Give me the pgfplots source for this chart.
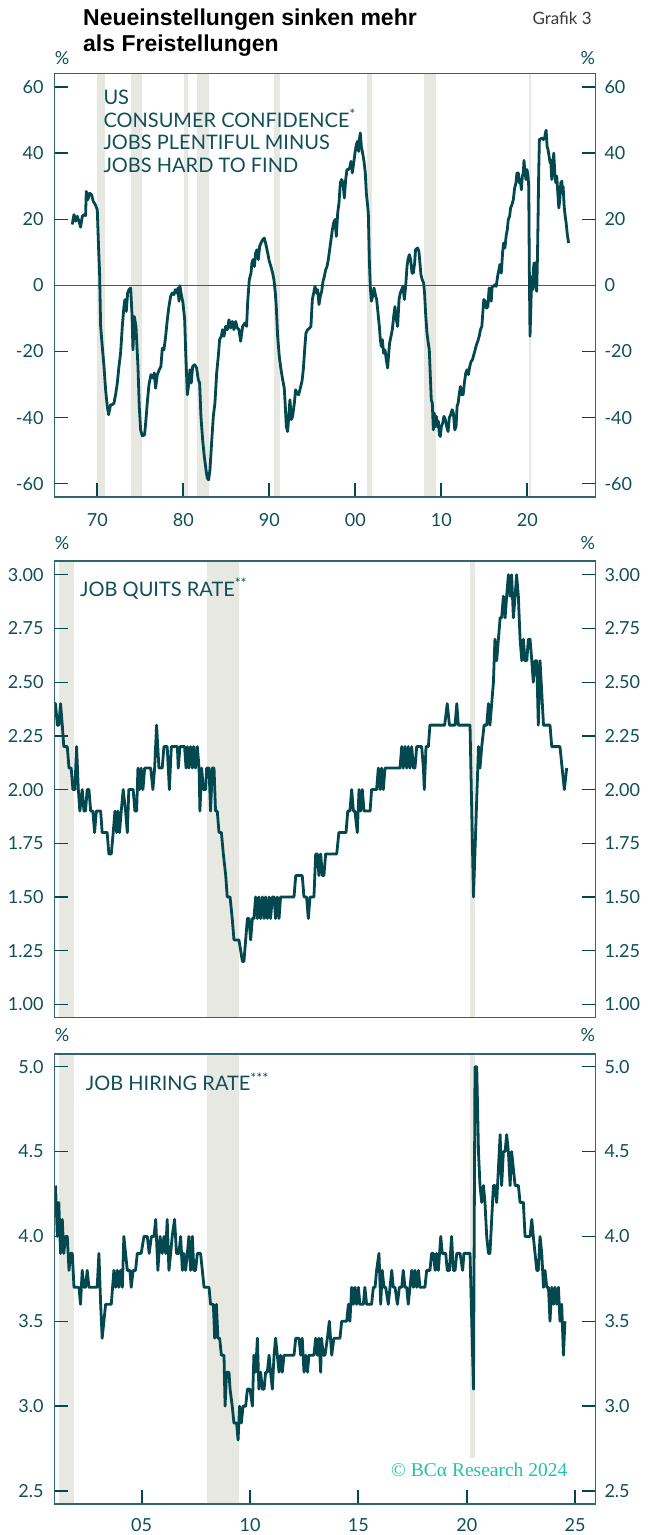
\documentclass[border=0pt]{standalone}
\usepackage{pgfplots}
\pgfplotsset{compat=1.18}
\usepackage{fontspec}
\setmainfont{Lato}
\newfontfamily\titlefont{Liberation Sans}
\newfontfamily\wmfont{Liberation Serif}
\definecolor{ln}{HTML}{03474F}
\definecolor{tkc}{HTML}{0F4F57}
\definecolor{axc}{HTML}{2F666C}
\definecolor{shd}{HTML}{E8E8E3}
\definecolor{wm}{HTML}{1FC6A0}
\definecolor{gr}{HTML}{3A3A3A}
\pgfplotsset{
  base/.style={
    scale only axis, width=540.6pt, axis on top,
    axis line style={draw=axc, line width=1.3pt},
    major tick length=0pt, tick align=inside,
    ytick pos=both, xtick pos=bottom, yticklabel pos=left,
    /pgf/number format/assume math mode=true,
    ticklabel style={font=\fontsize{18}{18}\selectfont, text=tkc},
    yticklabel style={anchor=east, inner sep=0pt, xshift=-11pt},
    xticklabel style={anchor=north, inner sep=0pt, yshift=-15pt},
  },
  rightax/.style={
    scale only axis, width=540.6pt,
    axis y line*=right, hide x axis,
    axis line style={draw=none},
    ytick style={draw=none},
    /pgf/number format/assume math mode=true,
    ticklabel style={font=\fontsize{18}{18}\selectfont, text=tkc},
    yticklabel style={anchor=west, inner sep=0pt, xshift=9pt},
  },
  recess/.style={fill=shd, draw=none, forget plot},
  dat/.style={draw=ln, line width=2.8pt, line join=round, mark=none},
}
\begin{document}
\begin{tikzpicture}
\useasboundingbox (0pt,0pt) rectangle (656pt,-1535pt);
% titles
\node[anchor=base west, inner sep=0pt, font=\titlefont\bfseries\fontsize{23}{23}\selectfont] at (83pt,-25pt) {Neueinstellungen sinken mehr};
\node[anchor=base west, inner sep=0pt, font=\titlefont\bfseries\fontsize{23}{23}\selectfont] at (83pt,-51pt) {als Freistellungen};
\node[anchor=base east, inner sep=0pt, font=\fontsize{17}{17}\selectfont, text=gr] at (592pt,-24pt) {Grafik 3};

% ---------- Panel 1 ----------
\begin{axis}[base, at={(54.7pt,-73.7pt)}, anchor=north west, height=423.3pt,
  xmin=1965.05, xmax=2027.9, ymin=-64, ymax=64,
  ytick={-60,-40,-20,0,20,40,60},
  xtick={1970,1980,1990,2000,2010,2020}, xticklabels={70,80,90,00,10,20},
  xticklabel style={yshift=-1.5pt}]
\addplot[recess] coordinates {(1969.95,-64) (1969.95,64) (1970.85,64) (1970.85,-64)};
\addplot[recess] coordinates {(1973.9,-64) (1973.9,64) (1975.25,64) (1975.25,-64)};
\addplot[recess] coordinates {(1980.05,-64) (1980.05,64) (1980.6,64) (1980.6,-64)};
\addplot[recess] coordinates {(1981.55,-64) (1981.55,64) (1982.95,64) (1982.95,-64)};
\addplot[recess] coordinates {(1990.58,-64) (1990.58,64) (1991.24,64) (1991.24,-64)};
\addplot[recess] coordinates {(2001.3,-64) (2001.3,64) (2001.94,64) (2001.94,-64)};
\addplot[recess] coordinates {(2007.94,-64) (2007.94,64) (2009.42,64) (2009.42,-64)};
\addplot[recess] coordinates {(2020.18,-64) (2020.18,64) (2020.38,64) (2020.38,-64)};
\addplot[draw=axc, line width=1.2pt, forget plot] coordinates {(1965.05,0) (2027.9,0)};
% tick marks
\addplot[draw=ln, line width=1.3pt, forget plot] coordinates {(1965.05,60) (1966.62,60)};
\addplot[draw=ln, line width=1.3pt, forget plot] coordinates {(1965.05,40) (1966.62,40)};
\addplot[draw=ln, line width=1.3pt, forget plot] coordinates {(1965.05,20) (1966.62,20)};
\addplot[draw=ln, line width=1.3pt, forget plot] coordinates {(1965.05,-20) (1966.62,-20)};
\addplot[draw=ln, line width=1.3pt, forget plot] coordinates {(1965.05,-40) (1966.62,-40)};
\addplot[draw=ln, line width=1.3pt, forget plot] coordinates {(1965.05,-60) (1966.62,-60)};
\addplot[draw=ln, line width=1.3pt, forget plot] coordinates {(2026.33,60) (2027.9,60)};
\addplot[draw=ln, line width=1.3pt, forget plot] coordinates {(2026.33,40) (2027.9,40)};
\addplot[draw=ln, line width=1.3pt, forget plot] coordinates {(2026.33,20) (2027.9,20)};
\addplot[draw=ln, line width=1.3pt, forget plot] coordinates {(2026.33,-20) (2027.9,-20)};
\addplot[draw=ln, line width=1.3pt, forget plot] coordinates {(2026.33,-40) (2027.9,-40)};
\addplot[draw=ln, line width=1.3pt, forget plot] coordinates {(2026.33,-60) (2027.9,-60)};
\addplot[draw=ln, line width=2.2pt, forget plot] coordinates {(1970,-64) (1970,-59.9)};
\addplot[draw=ln, line width=2.2pt, forget plot] coordinates {(1980,-64) (1980,-59.9)};
\addplot[draw=ln, line width=2.2pt, forget plot] coordinates {(1990,-64) (1990,-59.9)};
\addplot[draw=ln, line width=2.2pt, forget plot] coordinates {(2000,-64) (2000,-59.9)};
\addplot[draw=ln, line width=2.2pt, forget plot] coordinates {(2010,-64) (2010,-59.9)};
\addplot[draw=ln, line width=2.2pt, forget plot] coordinates {(2020,-64) (2020,-59.9)};
\addplot[dat] coordinates {
(1967.09,18.4) (1967.29,21.4) (1967.48,19.4) (1967.67,20.9) (1967.87,19.4) (1968.06,17.6) (1968.26,20.9) (1968.45,21.4) (1968.64,21.1) (1968.72,28.4) (1968.91,25.9) (1969.11,27.9) (1969.34,27.4) (1969.53,25.4) (1969.77,24.4) (1970.00,22.9) (1970.16,10.8) (1970.27,3.7) (1970.39,-12.4) (1970.58,-18.5) (1970.78,-24.5) (1970.97,-31.6) (1971.16,-36.6) (1971.32,-39.1) (1971.55,-36.1) (1971.74,-36.1) (1971.94,-35.6) (1972.13,-33.1) (1972.33,-29.5) (1972.52,-24.5) (1972.71,-20.5) (1972.91,-12.4) (1973.10,-6.4) (1973.22,-4.3) (1973.37,-7.9) (1973.53,-2.3) (1973.68,-1.3) (1973.88,-0.8) (1974.03,-8.4) (1974.15,-19.5) (1974.30,-9.4) (1974.50,-12.4) (1974.73,-24.5) (1974.88,-36.6) (1975.04,-43.7) (1975.23,-45.5) (1975.50,-45.2) (1975.66,-40.6) (1975.81,-35.6) (1976.01,-30.0) (1976.24,-27.0) (1976.47,-28.0) (1976.63,-26.5) (1976.78,-31.1) (1976.98,-27.0) (1977.21,-25.5) (1977.40,-24.5) (1977.56,-19.0) (1977.75,-19.5) (1977.95,-15.4) (1978.14,-10.4) (1978.33,-6.4) (1978.53,-3.3) (1978.72,-2.3) (1978.91,-2.8) (1979.07,-1.3) (1979.22,-2.3) (1979.38,-0.8) (1979.50,-4.8) (1979.61,-0.1) (1979.77,-2.8) (1979.96,-5.2) (1980.16,-10.4) (1980.27,-19.5) (1980.47,-33.1) (1980.62,-30.0) (1980.78,-25.5) (1980.93,-29.5) (1981.09,-24.5) (1981.32,-24.0) (1981.55,-25.0) (1981.74,-28.5) (1981.90,-29.5) (1982.05,-39.6) (1982.25,-46.7) (1982.44,-51.7) (1982.64,-55.8) (1982.79,-58.3) (1982.95,-58.8) (1983.10,-55.8) (1983.29,-47.7) (1983.49,-39.6) (1983.68,-35.6) (1983.88,-26.5) (1984.07,-21.5) (1984.22,-16.4) (1984.42,-15.4) (1984.57,-13.4) (1984.73,-15.4) (1984.92,-12.4) (1985.12,-13.4) (1985.31,-10.4) (1985.50,-12.9) (1985.70,-10.9) (1985.89,-13.4) (1986.09,-10.9) (1986.28,-12.9) (1986.47,-13.4) (1986.67,-16.9) (1986.90,-12.4) (1987.17,-11.4) (1987.36,-12.4) (1987.48,-5.3) (1987.67,1.7) (1987.87,3.7) (1987.98,6.8) (1988.10,7.8) (1988.26,5.7) (1988.41,9.8) (1988.57,10.8) (1988.72,7.8) (1988.88,11.8) (1989.03,12.8) (1989.22,13.8) (1989.42,14.3) (1989.61,12.3) (1989.81,9.8) (1990.00,7.3) (1990.19,5.7) (1990.39,3.7) (1990.54,1.7) (1990.70,-2.3) (1990.81,-6.4) (1990.97,-15.4) (1991.16,-21.5) (1991.36,-25.5) (1991.55,-28.5) (1991.74,-31.1) (1991.86,-36.6) (1991.98,-42.7) (1992.13,-44.2) (1992.29,-38.6) (1992.40,-34.6) (1992.56,-40.6) (1992.71,-39.6) (1992.91,-35.6) (1993.06,-31.6) (1993.22,-32.6) (1993.41,-33.1) (1993.60,-31.1) (1993.80,-29.0) (1993.95,-25.5) (1994.11,-19.5) (1994.26,-14.4) (1994.46,-13.4) (1994.69,-12.9) (1994.84,-12.4) (1995.00,-4.3) (1995.16,-2.3) (1995.31,-0.3) (1995.47,-2.3) (1995.62,-1.3) (1995.78,-5.8) (1995.93,-3.3) (1996.09,-1.8) (1996.24,1.2) (1996.40,2.7) (1996.55,4.7) (1996.71,5.7) (1996.86,7.8) (1997.02,10.8) (1997.17,13.8) (1997.33,16.8) (1997.48,18.9) (1997.64,19.9) (1997.79,14.8) (1997.95,21.9) (1998.10,24.9) (1998.26,31.0) (1998.41,32.0) (1998.57,31.0) (1998.72,26.4) (1998.88,32.0) (1999.03,35.0) (1999.19,35.0) (1999.34,35.5) (1999.50,37.5) (1999.65,34.0) (1999.81,37.0) (1999.96,40.0) (2000.12,42.6) (2000.27,43.6) (2000.39,40.5) (2000.50,44.6) (2000.58,46.1) (2000.70,42.0) (2000.85,40.0) (2001.01,37.5) (2001.16,34.0) (2001.28,27.9) (2001.40,24.9) (2001.51,21.9) (2001.63,7.8) (2001.74,-0.3) (2001.86,-4.8) (2002.02,-3.3) (2002.17,-0.8) (2002.33,-2.8) (2002.48,-4.3) (2002.64,-8.4) (2002.79,-12.4) (2002.91,-16.4) (2003.02,-18.5) (2003.14,-16.4) (2003.29,-20.5) (2003.45,-19.5) (2003.60,-22.5) (2003.76,-25.0) (2003.88,-20.5) (2003.99,-17.4) (2004.15,-15.4) (2004.30,-13.4) (2004.46,-9.4) (2004.61,-6.4) (2004.77,-10.4) (2004.92,-12.4) (2005.08,-4.3) (2005.23,-2.3) (2005.39,-1.3) (2005.54,-0.3) (2005.70,-4.3) (2005.85,-0.3) (2006.01,5.7) (2006.12,7.8) (2006.28,9.3) (2006.43,7.8) (2006.59,3.7) (2006.74,3.7) (2006.90,6.8) (2007.00,10.8) (2007.24,11.3) (2007.39,10.3) (2007.51,6.8) (2007.63,3.2) (2007.78,1.7) (2007.94,0.7) (2008.05,-2.3) (2008.17,-8.4) (2008.33,-14.4) (2008.48,-17.4) (2008.60,-19.5) (2008.72,-27.5) (2008.83,-34.6) (2008.95,-35.6) (2009.07,-43.7) (2009.18,-38.6) (2009.30,-42.7) (2009.42,-39.6) (2009.53,-42.7) (2009.65,-41.1) (2009.77,-45.2) (2009.88,-45.7) (2010.00,-42.7) (2010.16,-41.6) (2010.31,-39.6) (2010.47,-40.6) (2010.62,-42.7) (2010.78,-44.2) (2010.93,-40.0) (2011.09,-39.1) (2011.25,-37.6) (2011.40,-38.6) (2011.56,-43.7) (2011.71,-42.7) (2011.83,-36.6) (2011.95,-35.6) (2012.10,-32.6) (2012.22,-30.6) (2012.37,-33.1) (2012.53,-33.1) (2012.68,-29.5) (2012.84,-26.5) (2013.00,-25.5) (2013.15,-27.0) (2013.31,-24.5) (2013.46,-23.0) (2013.62,-22.5) (2013.77,-21.0) (2013.93,-19.5) (2014.09,-17.9) (2014.24,-16.9) (2014.40,-15.4) (2014.55,-13.4) (2014.71,-12.4) (2014.82,-8.4) (2014.94,-4.3) (2015.10,-4.8) (2015.25,-6.9) (2015.41,-6.4) (2015.56,-0.8) (2015.68,-1.3) (2015.80,-4.8) (2015.91,-0.3) (2016.07,-0.3) (2016.23,0.2) (2016.38,-0.3) (2016.54,2.7) (2016.69,4.7) (2016.81,6.3) (2016.97,3.7) (2017.12,9.8) (2017.24,12.8) (2017.39,11.3) (2017.55,15.3) (2017.67,16.8) (2017.78,19.9) (2017.94,20.9) (2018.05,23.4) (2018.21,24.4) (2018.37,25.9) (2018.52,29.4) (2018.68,31.0) (2018.79,34.0) (2018.95,34.0) (2019.07,31.0) (2019.18,32.0) (2019.30,28.9) (2019.42,33.0) (2019.53,34.0) (2019.61,37.8) (2019.73,34.0) (2019.84,32.0) (2019.96,35.0) (2020.08,33.0) (2020.16,29.9) (2020.23,4.7) (2020.31,-15.4) (2020.39,-8.4) (2020.47,-0.3) (2020.54,2.7) (2020.62,-1.3) (2020.70,4.7) (2020.78,6.8) (2020.86,-0.3) (2020.93,6.8) (2021.01,-0.8) (2021.09,-1.8) (2021.17,7.8) (2021.25,20.9) (2021.32,34.0) (2021.40,44.1) (2021.56,44.3) (2021.71,44.6) (2021.87,44.1) (2022.02,44.6) (2022.10,46.1) (2022.18,46.9) (2022.30,42.0) (2022.41,41.0) (2022.53,39.0) (2022.65,37.0) (2022.72,38.0) (2022.84,32.0) (2022.96,35.0) (2023.07,40.0) (2023.19,34.0) (2023.31,31.0) (2023.42,33.0) (2023.54,27.9) (2023.66,23.4) (2023.77,25.9) (2023.89,31.0) (2024.01,31.5) (2024.09,27.9) (2024.16,29.9) (2024.28,23.9) (2024.40,20.9) (2024.51,18.9) (2024.63,15.8) (2024.79,12.8)
};
\end{axis}
\begin{axis}[rightax, at={(54.7pt,-73.7pt)}, anchor=north west, height=423.3pt,
  xmin=1965.05, xmax=2027.9, ymin=-64, ymax=64, ytick={-60,-40,-20,0,20,40,60}]
\addplot[draw=none] coordinates {(1970,0)};
\end{axis}

% ---------- Panel 2 ----------
\begin{axis}[base, at={(54.7pt,-561pt)}, anchor=north west, height=456.7pt,
  xmin=2000.99, xmax=2025.93, ymin=0.938, ymax=3.064,
  ytick={1,1.25,1.5,1.75,2,2.25,2.5,2.75,3}, xtick=\empty,
  yticklabel style={/pgf/number format/.cd, fixed, fixed zerofill, precision=2}]
\addplot[recess] coordinates {(2001.2,0.938) (2001.2,3.064) (2001.9,3.064) (2001.9,0.938)};
\addplot[recess] coordinates {(2008.0,0.938) (2008.0,3.064) (2009.5,3.064) (2009.5,0.938)};
\addplot[recess] coordinates {(2020.17,0.938) (2020.17,3.064) (2020.38,3.064) (2020.38,0.938)};
% tick marks
\addplot[draw=ln, line width=1.3pt, forget plot] coordinates {(2000.99,1) (2001.61,1)};
\addplot[draw=ln, line width=1.3pt, forget plot] coordinates {(2000.99,1.25) (2001.61,1.25)};
\addplot[draw=ln, line width=1.3pt, forget plot] coordinates {(2000.99,1.5) (2001.61,1.5)};
\addplot[draw=ln, line width=1.3pt, forget plot] coordinates {(2000.99,1.75) (2001.61,1.75)};
\addplot[draw=ln, line width=1.3pt, forget plot] coordinates {(2000.99,2) (2001.61,2)};
\addplot[draw=ln, line width=1.3pt, forget plot] coordinates {(2000.99,2.25) (2001.61,2.25)};
\addplot[draw=ln, line width=1.3pt, forget plot] coordinates {(2000.99,2.5) (2001.61,2.5)};
\addplot[draw=ln, line width=1.3pt, forget plot] coordinates {(2000.99,2.75) (2001.61,2.75)};
\addplot[draw=ln, line width=1.3pt, forget plot] coordinates {(2000.99,3) (2001.61,3)};
\addplot[draw=ln, line width=1.3pt, forget plot] coordinates {(2025.31,1) (2025.93,1)};
\addplot[draw=ln, line width=1.3pt, forget plot] coordinates {(2025.31,1.25) (2025.93,1.25)};
\addplot[draw=ln, line width=1.3pt, forget plot] coordinates {(2025.31,1.5) (2025.93,1.5)};
\addplot[draw=ln, line width=1.3pt, forget plot] coordinates {(2025.31,1.75) (2025.93,1.75)};
\addplot[draw=ln, line width=1.3pt, forget plot] coordinates {(2025.31,2) (2025.93,2)};
\addplot[draw=ln, line width=1.3pt, forget plot] coordinates {(2025.31,2.25) (2025.93,2.25)};
\addplot[draw=ln, line width=1.3pt, forget plot] coordinates {(2025.31,2.5) (2025.93,2.5)};
\addplot[draw=ln, line width=1.3pt, forget plot] coordinates {(2025.31,2.75) (2025.93,2.75)};
\addplot[draw=ln, line width=1.3pt, forget plot] coordinates {(2025.31,3) (2025.93,3)};
\addplot[dat] coordinates {
(2000.95,2.4) (2001.03,2.4) (2001.11,2.3) (2001.18,2.3) (2001.26,2.4) (2001.34,2.3) (2001.41,2.2) (2001.57,2.2) (2001.65,2.1) (2001.75,2.1) (2001.83,2.0) (2001.92,2.0) (2002.00,2.2) (2002.08,2.0) (2002.15,1.9) (2002.26,2.0) (2002.34,1.9) (2002.41,1.9) (2002.49,2.0) (2002.57,2.0) (2002.65,1.9) (2002.75,1.9) (2002.83,1.8) (2002.91,1.9) (2003.11,1.9) (2003.18,1.8) (2003.41,1.8) (2003.49,1.7) (2003.60,1.7) (2003.69,1.8) (2003.77,1.9) (2003.85,1.8) (2003.91,1.9) (2003.98,1.8) (2004.06,1.9) (2004.15,2.0) (2004.26,1.9) (2004.34,1.8) (2004.41,2.0) (2004.61,2.0) (2004.69,1.9) (2004.77,1.9) (2004.83,2.1) (2004.91,2.0) (2004.98,2.1) (2005.06,2.0) (2005.14,2.1) (2005.42,2.1) (2005.52,2.0) (2005.60,2.1) (2005.69,2.3) (2005.80,2.1) (2005.95,2.1) (2006.03,2.2) (2006.18,2.2) (2006.28,2.0) (2006.37,2.2) (2006.65,2.2) (2006.69,2.1) (2006.77,2.2) (2006.98,2.2) (2007.05,2.1) (2007.11,2.2) (2007.18,2.1) (2007.26,2.2) (2007.34,2.1) (2007.41,2.2) (2007.49,2.1) (2007.57,2.2) (2007.65,2.1) (2007.69,1.9) (2007.77,2.1) (2007.85,2.0) (2007.95,2.0) (2008.00,2.1) (2008.11,2.1) (2008.18,1.9) (2008.26,2.1) (2008.34,2.1) (2008.41,1.9) (2008.49,1.9) (2008.57,1.8) (2008.68,1.8) (2008.77,1.7) (2008.88,1.6) (2008.95,1.5) (2009.08,1.5) (2009.18,1.4) (2009.26,1.3) (2009.49,1.3) (2009.57,1.25) (2009.65,1.2) (2009.72,1.2) (2009.80,1.3) (2009.88,1.4) (2009.95,1.4) (2010.03,1.3) (2010.11,1.4) (2010.18,1.4) (2010.26,1.5) (2010.34,1.4) (2010.41,1.5) (2010.49,1.4) (2010.57,1.5) (2010.65,1.4) (2010.72,1.5) (2010.80,1.4) (2010.88,1.5) (2010.95,1.4) (2011.03,1.5) (2011.11,1.5) (2011.18,1.4) (2011.26,1.5) (2011.34,1.4) (2011.41,1.5) (2012.03,1.5) (2012.11,1.6) (2012.41,1.6) (2012.49,1.5) (2012.61,1.5) (2012.69,1.4) (2012.77,1.5) (2012.95,1.5) (2013.03,1.7) (2013.11,1.7) (2013.18,1.6) (2013.26,1.7) (2013.34,1.6) (2013.41,1.6) (2013.49,1.7) (2014.00,1.7) (2014.10,1.8) (2014.43,1.8) (2014.51,1.9) (2014.61,1.9) (2014.69,2.0) (2014.77,1.9) (2014.84,1.9) (2014.95,1.8) (2015.03,2.0) (2015.10,1.9) (2015.18,2.0) (2015.26,1.9) (2015.54,1.9) (2015.61,2.0) (2015.84,2.0) (2015.92,2.1) (2016.00,2.0) (2016.07,2.1) (2016.15,2.0) (2016.23,2.1) (2016.92,2.1) (2017.00,2.2) (2017.07,2.1) (2017.15,2.2) (2017.23,2.1) (2017.30,2.2) (2017.38,2.1) (2017.46,2.2) (2017.54,2.1) (2017.61,2.1) (2017.69,2.2) (2017.92,2.2) (2018.00,2.1) (2018.04,2.0) (2018.12,2.2) (2018.23,2.2) (2018.30,2.3) (2018.98,2.3) (2019.10,2.4) (2019.20,2.3) (2019.46,2.3) (2019.54,2.4) (2019.61,2.3) (2020.15,2.3) (2020.31,1.5) (2020.54,2.2) (2020.61,2.1) (2020.69,2.2) (2020.80,2.3) (2020.92,2.3) (2021.00,2.4) (2021.07,2.3) (2021.15,2.4) (2021.23,2.5) (2021.30,2.7) (2021.38,2.6) (2021.46,2.7) (2021.54,2.8) (2021.61,2.8) (2021.69,2.9) (2021.77,2.8) (2021.84,2.9) (2021.92,3.0) (2022.00,2.9) (2022.07,3.0) (2022.15,2.8) (2022.23,2.9) (2022.30,3.0) (2022.38,2.9) (2022.46,2.7) (2022.54,2.6) (2022.61,2.7) (2022.69,2.6) (2022.77,2.6) (2022.84,2.7) (2022.92,2.7) (2023.00,2.6) (2023.07,2.5) (2023.15,2.6) (2023.23,2.6) (2023.30,2.3) (2023.38,2.6) (2023.46,2.45) (2023.54,2.3) (2023.84,2.3) (2023.92,2.2) (2024.30,2.2) (2024.50,2.0) (2024.61,2.1)
};
\end{axis}
\begin{axis}[rightax, at={(54.7pt,-561pt)}, anchor=north west, height=456.7pt,
  xmin=2000.99, xmax=2025.93, ymin=0.938, ymax=3.064,
  ytick={1,1.25,1.5,1.75,2,2.25,2.5,2.75,3},
  yticklabel style={/pgf/number format/.cd, fixed, fixed zerofill, precision=2}]
\addplot[draw=none] coordinates {(2005,2)};
\end{axis}

% ---------- Panel 3 ----------
\begin{axis}[base, at={(54.7pt,-1054pt)}, anchor=north west, height=450pt,
  xmin=2000.99, xmax=2025.93, ymin=2.423, ymax=5.075,
  ytick={2.5,3,3.5,4,4.5,5},
  xtick={2005,2010,2015,2020,2025}, xticklabels={05,10,15,20,25},
  xticklabel style={yshift=1pt},
  yticklabel style={/pgf/number format/.cd, fixed, fixed zerofill, precision=1}]
\addplot[recess] coordinates {(2001.2,2.423) (2001.2,5.075) (2001.9,5.075) (2001.9,2.423)};
\addplot[recess] coordinates {(2008.0,2.423) (2008.0,5.075) (2009.5,5.075) (2009.5,2.423)};
\addplot[recess] coordinates {(2020.17,2.423) (2020.17,5.075) (2020.38,5.075) (2020.38,2.423)};
\addplot[fill=white, draw=none, forget plot] coordinates {(2017.8,2.423) (2017.8,2.694) (2024.9,2.694) (2024.9,2.423)};
% tick marks
\addplot[draw=ln, line width=1.3pt, forget plot] coordinates {(2000.99,2.5) (2001.61,2.5)};
\addplot[draw=ln, line width=1.3pt, forget plot] coordinates {(2000.99,3) (2001.61,3)};
\addplot[draw=ln, line width=1.3pt, forget plot] coordinates {(2000.99,3.5) (2001.61,3.5)};
\addplot[draw=ln, line width=1.3pt, forget plot] coordinates {(2000.99,4) (2001.61,4)};
\addplot[draw=ln, line width=1.3pt, forget plot] coordinates {(2000.99,4.5) (2001.61,4.5)};
\addplot[draw=ln, line width=1.3pt, forget plot] coordinates {(2000.99,5) (2001.61,5)};
\addplot[draw=ln, line width=1.3pt, forget plot] coordinates {(2025.31,2.5) (2025.93,2.5)};
\addplot[draw=ln, line width=1.3pt, forget plot] coordinates {(2025.31,3) (2025.93,3)};
\addplot[draw=ln, line width=1.3pt, forget plot] coordinates {(2025.31,3.5) (2025.93,3.5)};
\addplot[draw=ln, line width=1.3pt, forget plot] coordinates {(2025.31,4) (2025.93,4)};
\addplot[draw=ln, line width=1.3pt, forget plot] coordinates {(2025.31,4.5) (2025.93,4.5)};
\addplot[draw=ln, line width=1.3pt, forget plot] coordinates {(2025.31,5) (2025.93,5)};
\addplot[draw=ln, line width=2.2pt, forget plot] coordinates {(2005,2.423) (2005,2.503)};
\addplot[draw=ln, line width=2.2pt, forget plot] coordinates {(2010,2.423) (2010,2.503)};
\addplot[draw=ln, line width=2.2pt, forget plot] coordinates {(2015,2.423) (2015,2.503)};
\addplot[draw=ln, line width=2.2pt, forget plot] coordinates {(2020,2.423) (2020,2.503)};
\addplot[draw=ln, line width=2.2pt, forget plot] coordinates {(2025,2.423) (2025,2.503)};
\addplot[dat] coordinates {
(2001.03,4.3) (2001.11,4.0) (2001.18,4.2) (2001.26,3.9) (2001.34,4.1) (2001.41,3.9) (2001.49,4.0) (2001.57,4.0) (2001.65,3.8) (2001.72,3.9) (2001.80,3.9) (2001.88,3.7) (2002.11,3.7) (2002.18,3.6) (2002.26,3.8) (2002.34,3.7) (2002.41,3.7) (2002.49,3.8) (2002.57,3.7) (2002.95,3.7) (2003.03,3.9) (2003.11,3.6) (2003.18,3.4) (2003.26,3.5) (2003.34,3.6) (2003.60,3.6) (2003.72,3.8) (2003.80,3.7) (2003.88,3.8) (2003.95,3.7) (2004.03,3.8) (2004.11,3.7) (2004.18,4.0) (2004.34,3.8) (2004.46,3.8) (2004.52,3.7) (2004.61,3.8) (2004.72,3.8) (2004.80,3.9) (2004.98,3.9) (2005.11,4.0) (2005.26,4.0) (2005.35,3.9) (2005.45,4.0) (2005.57,4.0) (2005.65,4.1) (2005.75,3.8) (2005.85,4.0) (2005.95,3.9) (2006.03,4.0) (2006.11,3.9) (2006.18,4.1) (2006.26,3.8) (2006.34,3.9) (2006.41,4.0) (2006.52,4.1) (2006.61,3.9) (2006.72,3.9) (2006.80,4.0) (2006.88,3.8) (2006.95,3.9) (2007.03,3.8) (2007.11,3.9) (2007.18,4.0) (2007.26,3.8) (2007.34,4.0) (2007.41,3.8) (2007.49,3.8) (2007.57,3.9) (2007.72,3.9) (2007.80,3.8) (2007.88,3.7) (2008.11,3.7) (2008.18,3.6) (2008.31,3.6) (2008.37,3.4) (2008.45,3.6) (2008.52,3.4) (2008.60,3.4) (2008.68,3.3) (2008.80,3.3) (2008.85,3.0) (2008.92,3.2) (2009.03,3.2) (2009.08,3.1) (2009.18,3.0) (2009.26,2.9) (2009.38,2.9) (2009.45,2.8) (2009.52,3.0) (2009.60,2.9) (2009.68,3.0) (2009.80,3.0) (2009.88,3.1) (2010.00,3.1) (2010.11,3.0) (2010.18,3.3) (2010.26,3.2) (2010.34,3.4) (2010.41,3.1) (2010.49,3.2) (2010.57,3.1) (2010.65,3.1) (2010.72,3.2) (2010.80,3.2) (2010.88,3.3) (2010.95,3.2) (2011.03,3.1) (2011.11,3.3) (2011.18,3.4) (2011.26,3.3) (2011.34,3.2) (2011.41,3.3) (2011.49,3.2) (2011.57,3.3) (2012.03,3.3) (2012.11,3.4) (2012.26,3.4) (2012.34,3.3) (2012.41,3.4) (2012.49,3.2) (2012.57,3.3) (2012.65,3.2) (2012.72,3.3) (2012.95,3.3) (2013.03,3.4) (2013.11,3.3) (2013.18,3.4) (2013.26,3.2) (2013.30,3.4) (2013.38,3.3) (2013.46,3.3) (2013.57,3.4) (2013.66,3.5) (2013.77,3.3) (2013.87,3.4) (2014.15,3.4) (2014.23,3.5) (2014.46,3.5) (2014.54,3.6) (2014.61,3.5) (2014.69,3.7) (2014.77,3.6) (2014.84,3.7) (2014.92,3.6) (2015.00,3.7) (2015.07,3.6) (2015.23,3.6) (2015.30,3.7) (2015.38,3.6) (2015.61,3.6) (2015.69,3.7) (2015.77,3.7) (2015.84,3.8) (2015.95,3.9) (2016.03,3.6) (2016.10,3.8) (2016.18,3.7) (2016.26,3.7) (2016.38,3.6) (2016.46,3.7) (2016.54,3.8) (2016.61,3.7) (2016.69,3.7) (2016.80,3.6) (2016.89,3.7) (2017.00,3.7) (2017.07,3.8) (2017.15,3.7) (2017.23,3.7) (2017.30,3.6) (2017.38,3.7) (2017.46,3.8) (2017.54,3.7) (2017.61,3.8) (2017.69,3.7) (2017.77,3.8) (2017.84,3.7) (2018.07,3.7) (2018.15,3.8) (2018.30,3.8) (2018.38,3.9) (2018.46,3.9) (2018.54,3.8) (2018.61,3.9) (2018.69,3.8) (2018.80,4.0) (2018.87,3.9) (2019.03,3.9) (2019.10,3.8) (2019.20,3.8) (2019.30,4.0) (2019.38,3.8) (2019.46,3.8) (2019.54,3.9) (2019.69,3.9) (2019.81,3.8) (2019.87,3.9) (2020.15,3.9) (2020.31,3.1) (2020.38,5.0) (2020.46,5.0) (2020.54,4.5) (2020.61,4.3) (2020.69,4.2) (2020.77,4.3) (2020.84,4.2) (2020.92,4.0) (2021.00,3.9) (2021.07,3.9) (2021.15,4.1) (2021.23,4.3) (2021.30,4.3) (2021.38,4.2) (2021.46,4.4) (2021.54,4.6) (2021.61,4.3) (2021.69,4.5) (2021.77,4.5) (2021.84,4.6) (2021.92,4.5) (2022.00,4.3) (2022.07,4.5) (2022.15,4.4) (2022.23,4.3) (2022.38,4.3) (2022.46,4.2) (2022.61,4.2) (2022.69,4.0) (2022.92,4.0) (2023.00,4.1) (2023.07,4.0) (2023.15,3.9) (2023.23,3.8) (2023.30,3.8) (2023.38,4.0) (2023.46,3.9) (2023.54,3.7) (2023.61,3.8) (2023.69,3.7) (2023.77,3.7) (2023.84,3.5) (2023.92,3.7) (2024.00,3.6) (2024.07,3.7) (2024.15,3.6) (2024.23,3.7) (2024.30,3.5) (2024.38,3.6) (2024.46,3.3) (2024.53,3.5)
};
\end{axis}
\begin{axis}[rightax, at={(54.7pt,-1054pt)}, anchor=north west, height=450pt,
  xmin=2000.99, xmax=2025.93, ymin=2.423, ymax=5.075,
  ytick={2.5,3,3.5,4,4.5,5},
  yticklabel style={/pgf/number format/.cd, fixed, fixed zerofill, precision=1}]
\addplot[draw=none] coordinates {(2005,3)};
\end{axis}

% ---------- texts ----------
\begin{scope}[every node/.style={inner sep=0pt, text=tkc, font=\fontsize{20}{20}\selectfont}]
\node[anchor=base west] at (103.3pt,-104.7pt) {US};
\node[anchor=base west] at (103.3pt,-127.2pt) {CONSUMER CONFIDENCE\textsuperscript{*}};
\node[anchor=base west] at (103.3pt,-149.6pt) {JOBS PLENTIFUL MINUS};
\node[anchor=base west] at (103.3pt,-172.0pt) {JOBS HARD TO FIND};
\node[anchor=base west] at (80pt,-596pt) {JOB QUITS RATE\textsuperscript{**}};
\node[anchor=base west] at (85.7pt,-1090.7pt) {JOB HIRING RATE\textsuperscript{***}};
\end{scope}
\begin{scope}[every node/.style={inner sep=0pt, text=tkc, font=\fontsize{18}{18}\selectfont}]
\node[anchor=base west] at (54.7pt,-64.5pt) {\%};
\node[anchor=base east] at (595.3pt,-64.5pt) {\%};
\node[anchor=base west] at (54.7pt,-549.5pt) {\%};
\node[anchor=base east] at (595.3pt,-549.5pt) {\%};
\node[anchor=base west] at (54.7pt,-1041.5pt) {\%};
\node[anchor=base east] at (595.3pt,-1041.5pt) {\%};
\end{scope}
\node[anchor=base west, inner sep=0pt, text=wm, font=\wmfont\fontsize{19.5}{19.5}\selectfont] at (391pt,-1476pt) {© BCα Research 2024};
\end{tikzpicture}
\end{document}
